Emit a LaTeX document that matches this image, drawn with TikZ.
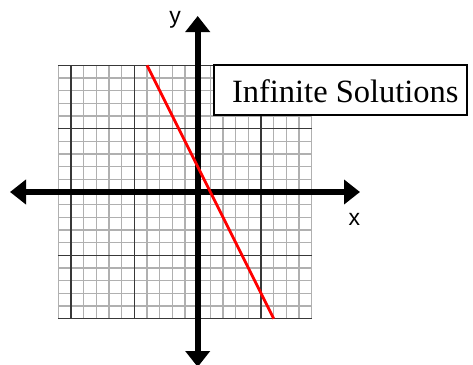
\documentclass[tikz,border=0pt]{standalone}
\usepackage{fontspec}
\setmainfont{Liberation Serif}
\newfontfamily\labelfont{Liberation Sans}
\usetikzlibrary{arrows.meta}
\definecolor{minorgray}{RGB}{176,176,176}
\definecolor{majorgray}{RGB}{56,56,56}
\tikzset{
  minorline/.style={draw=minorgray, line width=1.5pt},
  majorline/.style={draw=majorgray, line width=1.4pt},
  axisline/.style={line width=6pt, -{Triangle[length=16pt,width=24pt]}},
  solline/.style={draw=red, line width=2.7pt},
  titlebox/.style={draw=black, line width=1.9pt, fill=white, inner sep=0pt,
    minimum width=253pt, minimum height=50pt, text height=25.4pt, text depth=0pt,
    font=\fontsize{32.5}{38}\selectfont},
  axislabel/.style={font=\labelfont\fontsize{23}{27}\selectfont, inner sep=0pt, anchor=base}
}
\begin{document}
\begin{tikzpicture}[x=1pt,y=-1pt]
\useasboundingbox (0,0) rectangle (473,364);
\fill[white] (0,0) rectangle (473,364);
\begin{scope}[shift={(197.7,192)}, x=12.67pt, y=12.67pt]
  \foreach \i in {-11,...,9} \draw[minorline] (\i,-10) -- (\i,10);
  \foreach \j in {-10,...,10} \draw[minorline] (-11,\j) -- (9,\j);
  \foreach \i in {-10,-5,0,5} \draw[majorline] (\i,-10) -- (\i,10);
  \foreach \j in {-10,-5,0,5,10} \draw[majorline] (-11,\j) -- (9,\j);
  \coordinate (top) at (-4,10);
  \coordinate (bottom) at (6,-10);
\end{scope}
\coordinate (xl) at (10,192);
\coordinate (xr) at (360,192);
\coordinate (yt) at (197.7,16);
\coordinate (yb) at (197.7,367);
\coordinate (o) at (197.7,192);
\draw[axisline] (o) -- (xl);
\draw[axisline] (o) -- (xr);
\draw[axisline] (o) -- (yt);
\draw[axisline] (o) -- (yb);
\draw[solline] (top) -- (bottom);
\node[titlebox] (title) at (340.8,90) {\hspace*{9pt}Infinite Solutions};
\node[axislabel] (xlab) at (354.3,225) {x};
\node[axislabel] (ylab) at (175,23.5) {y};
\end{tikzpicture}
\end{document}
